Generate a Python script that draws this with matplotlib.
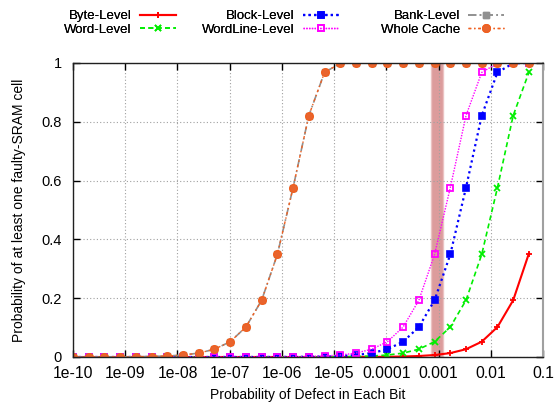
import matplotlib
matplotlib.use('Agg')
from matplotlib import pyplot as plt

plt.rcParams['font.family'] = ['Liberation Sans', 'DejaVu Sans']
plt.rcParams['font.size'] = 10

# defect probability per bit (points double each step)
p_bit = [1e-10, 2e-10, 4e-10, 8e-10, 1.6e-9, 3.2e-9, 6.4e-9, 1.28e-8, 2.56e-8, 5.12e-8,
         1.024e-7, 2.048e-7, 4.096e-7, 8.192e-7, 1.638e-6, 3.277e-6, 6.554e-6, 1.311e-5,
         2.621e-5, 5.243e-5, 1.049e-4, 2.097e-4, 4.194e-4, 8.389e-4, 1.678e-3, 3.355e-3,
         6.711e-3, 1.342e-2, 2.684e-2, 5.369e-2]

byte_level = [0, 0, 0, 0, 0, 0, 0, 0, 0, 0, 0, 0, 0, 0, 0, 0,
              0.0001, 0.0001, 0.0002, 0.0004, 0.0008, 0.0017, 0.0034, 0.0067, 0.0133,
              0.0265, 0.052, 0.102, 0.193, 0.352]
word_level = [0, 0, 0, 0, 0, 0, 0, 0, 0, 0, 0, 0, 0,
              0.0001, 0.0001, 0.0002, 0.0004, 0.0008, 0.0017, 0.0034, 0.0067, 0.0133,
              0.0265, 0.052, 0.102, 0.193, 0.349, 0.576, 0.821, 0.968]
block_level = [0, 0, 0, 0, 0, 0, 0, 0, 0, 0, 0,
               0.0001, 0.0001, 0.0002, 0.0004, 0.0008, 0.0017, 0.0034, 0.0067, 0.0133,
               0.0265, 0.052, 0.102, 0.193, 0.349, 0.576, 0.821, 0.968, 0.999, 1]
wordline_level = [0, 0, 0, 0, 0, 0, 0, 0, 0, 0,
                  0.0001, 0.0001, 0.0002, 0.0004, 0.0008, 0.0017, 0.0034, 0.0067, 0.0133,
                  0.0265, 0.052, 0.102, 0.193, 0.349, 0.576, 0.821, 0.968, 0.999, 1, 1]
bank_level = [0.0001, 0.0001, 0.0002, 0.0004, 0.0008, 0.0017, 0.0034, 0.0067, 0.0133,
              0.0265, 0.052, 0.102, 0.193, 0.349, 0.576, 0.821, 0.968, 0.999,
              1, 1, 1, 1, 1, 1, 1, 1, 1, 1, 1, 1]
whole_cache = [0.0001, 0.0001, 0.0002, 0.0004, 0.0008, 0.0017, 0.0034, 0.0067, 0.0133,
               0.0265, 0.052, 0.102, 0.193, 0.349, 0.576, 0.821, 0.968, 0.999,
               1, 1, 1, 1, 1, 1, 1, 1, 1, 1, 1, 1]

highlight = (7.3e-4, 1.19e-3)

x_ticks = [1e-10, 1e-9, 1e-8, 1e-7, 1e-6, 1e-5, 1e-4, 1e-3, 1e-2, 1e-1]
x_tick_labels = ['1e-10', '1e-09', '1e-08', '1e-07', '1e-06', '1e-05',
                 '0.0001', '0.001', '0.01', '0.1']
y_ticks = [0, 0.2, 0.4, 0.6, 0.8, 1]
y_tick_labels = ['0', '0.2', '0.4', '0.6', '0.8', '1']

W, H = 555, 403


def main():
    fig = plt.figure(figsize=(W / 100, H / 100), dpi=100)
    ax = fig.add_axes([73 / W, 1 - 357 / H, 470 / W, 294 / H])

    ax.axvspan(highlight[0], highlight[1], facecolor='#dc9c9c', edgecolor='#ebc2c2',
               lw=1.0, zorder=1)

    ax.plot(p_bit, byte_level, color='#ff0000', ls='-', lw=1.5, marker='+', ms=5,
            mew=1.3, label='Byte-Level')
    ax.plot(p_bit, word_level, color='#00ee00', ls=(0, (3, 2)), lw=1.2, marker='x',
            ms=5, mew=1.3, label='Word-Level')
    ax.plot(p_bit, block_level, color='#0000ff', ls=(0, (1, 1.5)), lw=1.6,
            marker='s', ms=4, mew=1.2, label='Block-Level')
    ax.plot(p_bit, wordline_level, color='#ff00ff', ls=(0, (1, 1)), lw=1.0,
            marker='s', ms=5, mfc='none', mew=1.3, label='WordLine-Level')
    ax.plot(p_bit, bank_level, color='#909090', ls=(0, (5, 2, 1, 2)), lw=1.2,
            marker='s', ms=4, label='Bank-Level')
    ax.plot(p_bit, whole_cache, color='#f06020', ls=(0, (2, 2, 1, 2)), lw=1.0,
            marker='o', ms=5.5, mfc='#e8642e', mec='#f06020', mew=1.0, label='Whole Cache')

    ax.set_xscale('log')
    ax.set_xlim(1e-10, 0.1)
    ax.set_ylim(0, 1)
    ax.set_xticks(x_ticks)
    ax.set_xticklabels(x_tick_labels, fontsize=11.3)
    ax.minorticks_off()
    ax.set_yticks(y_ticks)
    ax.set_yticklabels(y_tick_labels, fontsize=10.5)
    ax.tick_params(direction='in', length=5, width=1, top=True, right=True)
    ax.tick_params(axis='x', pad=6.5)
    ax.tick_params(axis='y', pad=8)
    ax.grid(True, color='#a0a0a0', ls=(0, (1, 2)), lw=0.8)

    for side in ('left', 'bottom', 'top'):
        ax.spines[side].set_color('#202020')
        ax.spines[side].set_linewidth(1.0)
    ax.spines['right'].set_color('#a0a0a0')
    ax.spines['right'].set_linewidth(1.5)

    ax.set_xlabel('Probability of Defect in Each Bit', labelpad=5)
    ax.set_ylabel('Probability of at least one faulty-SRAM cell')
    ax.yaxis.set_label_coords(-0.1, 0.5)

    # gnuplot style key: three right-aligned columns above the plot
    handles, labels = ax.get_legend_handles_labels()
    col_right = [176, 339, 504]
    for c in range(3):
        leg = fig.legend(handles[2 * c:2 * c + 2], labels[2 * c:2 * c + 2],
                         loc='upper right', bbox_to_anchor=(col_right[c] / W, 1 - 10 / H),
                         bbox_transform=fig.transFigure, markerfirst=False,
                         frameon=False, fontsize=9.5, handlelength=2.7,
                         handletextpad=0.65, labelspacing=0.12, borderpad=0,
                         borderaxespad=0)
        fig.add_artist(leg)

    fig.savefig('out.png', dpi=100)


if __name__ == '__main__':
    main()
